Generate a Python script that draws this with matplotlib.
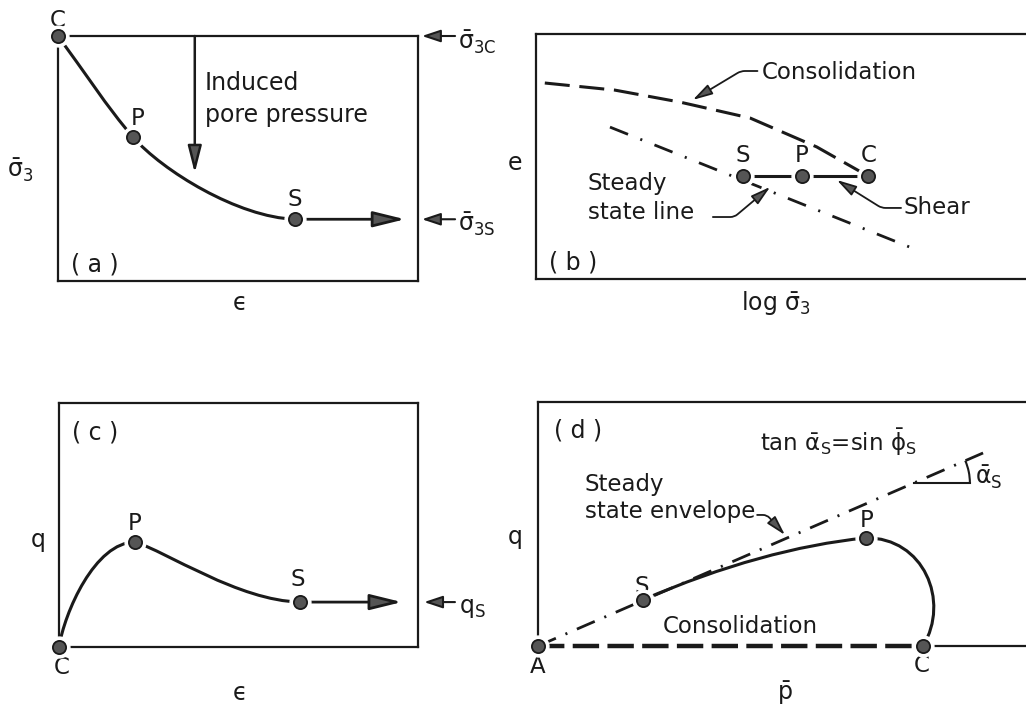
import matplotlib.pyplot as plt
from matplotlib.path import Path
from matplotlib.patches import PathPatch, Arc

plt.rcParams['font.family'] = 'DejaVu Sans'
plt.rcParams['mathtext.fontset'] = 'dejavusans'
plt.rcParams['mathtext.default'] = 'regular'
plt.rcParams['lines.scale_dashes'] = False

# (a) effective minor principal stress vs strain
a_labels = ['C', 'P', 'S']
a_x = [0.0, 2.08, 6.58]
a_y = [10.0, 5.88, 2.52]
# bezier control points C -> P -> S
a_path = [(0.0, 10.0), (0.7, 8.61), (1.38, 7.06), (2.08, 5.88),
          (2.9, 4.5), (5.0, 2.6), (6.58, 2.52)]
a_flow_end = 9.64
a_pore_x = 3.8
a_pore_end = 4.41

# (b) void ratio vs log stress
b_labels = ['S', 'P', 'C']
b_x = [4.22, 5.43, 6.78]
b_y = [4.20, 4.20, 4.20]
b_consol_x = [0.18, 1.61, 2.94, 4.37, 5.73, 6.78]
b_consol_y = [8.0, 7.71, 7.22, 6.57, 5.39, 4.20]
b_ssl_x = [1.51, 7.78]
b_ssl_y = [6.20, 1.18]

# (c) deviator stress vs strain
c_labels = ['C', 'P', 'S']
c_x = [0.0, 2.12, 6.71]
c_y = [0.0, 4.30, 1.84]
c_path = [(0.0, 0.0), (0.15, 1.4), (1.0, 4.3), (2.12, 4.3),
          (3.0, 3.9), (5.0, 1.9), (6.71, 1.84)]
c_flow_end = 9.55

# (d) stress path, q vs p
d_labels = ['A', 'S', 'P', 'C']
d_x = [0.0, 2.15, 6.72, 7.89]
d_y = [0.0, 1.89, 4.43, 0.0]
d_path = [(2.15, 1.89), (3.78, 3.30), (5.31, 4.14), (6.72, 4.43),
          (7.9, 4.45), (8.45, 1.85), (7.89, 0.0)]
d_env_x = [0.0, 9.12]
d_env_y = [0.0, 7.91]
d_angle_x = 7.70
d_angle_r = 1.15

ink = '#1a1a1a'
grey = '#555555'
fs = 16.5
eps = '\u03f5'

fig = plt.figure(figsize=(10.26, 7.13), dpi=100)
ax_a = fig.add_axes([0.0565, 0.6059, 0.3509, 0.3436])
ax_b = fig.add_axes([0.5224, 0.6087, 0.4776, 0.3436])
ax_c = fig.add_axes([0.0575, 0.0926, 0.3499, 0.3422])
ax_d = fig.add_axes([0.5244, 0.0940, 0.4756, 0.3422])


def frame(ax):
    ax.set_xlim(0, 10)
    ax.set_ylim(0, 10)
    ax.set_xticks([])
    ax.set_yticks([])
    for sp in ax.spines.values():
        sp.set_linewidth(1.6)
        sp.set_color(ink)


def curve(ax, pts):
    codes = [Path.MOVETO] + [Path.CURVE4] * (len(pts) - 1)
    ax.add_patch(PathPatch(Path(pts, codes), fill=False, ec=ink, lw=2.2,
                           capstyle='round', zorder=3, clip_on=False))


def points(ax, xs, ys):
    ax.plot(xs, ys, 'o', ms=15, color='white', zorder=5, clip_on=False)
    ax.plot(xs, ys, 'o', ms=9.5, mfc=grey, mec=ink, mew=1.3, zorder=6, clip_on=False)


def arrow(ax, start, end, hl=1.3, hw=0.32, lw=2.0, shrink=0):
    ax.annotate('', xy=end, xytext=start, annotation_clip=False,
                arrowprops=dict(arrowstyle=f'-|>,head_length={hl},head_width={hw}',
                                mutation_scale=15, lw=lw, ec=ink, fc=grey,
                                shrinkA=shrink, shrinkB=0))


def leader(ax, start, tip, angle_b):
    ax.annotate('', xy=tip, xytext=start, annotation_clip=False,
                arrowprops=dict(arrowstyle='-|>,head_length=0.8,head_width=0.22',
                                mutation_scale=15, lw=1.3, ec=ink, fc=grey,
                                shrinkA=0, shrinkB=0,
                                connectionstyle=f'angle,angleA=0,angleB={angle_b},rad=4'))


def label(ax, x, y, s, size=fs, ha='center', **kw):
    ax.text(x, y, s, fontsize=size, ha=ha, va='center', color=ink, **kw)


for ax in [ax_a, ax_b, ax_c, ax_d]:
    frame(ax)
ax_b.spines['right'].set_visible(False)
ax_d.spines['right'].set_visible(False)
ax_d.spines['bottom'].set_visible(False)

# ---- (a) ----
curve(ax_a, a_path)
points(ax_a, a_x, a_y)
arrow(ax_a, (a_x[2], a_y[2]), (a_flow_end, a_y[2]), shrink=8)
arrow(ax_a, (a_pore_x, 10.0), (a_pore_x, a_pore_end), hl=1.1, hw=0.28, lw=1.8)
label(ax_a, 4.08, 7.43, 'Induced\npore pressure', size=17, ha='left', linespacing=1.4)
label(ax_a, 0.0, 10.65, a_labels[0])
label(ax_a, 2.22, 6.65, a_labels[1])
label(ax_a, 6.58, 3.31, a_labels[2])
label(ax_a, 1.03, 0.69, '( a )', size=17)
arrow(ax_a, (11.03, 10.0), (10.11, 10.0), hl=0.75, hw=0.25, lw=1.5)
arrow(ax_a, (11.03, a_y[2]), (10.11, a_y[2]), hl=0.75, hw=0.25, lw=1.5)
label(ax_a, 11.1, 9.75, r'$\bar{\sigma}_{3C}$', size=17, ha='left')
label(ax_a, 11.1, 2.3, r'$\bar{\sigma}_{3S}$', size=17, ha='left')
label(ax_a, -1.06, 4.53, r'$\bar{\sigma}_3$', size=17)
label(ax_a, 5.06, -0.9, eps, size=17)

# ---- (b) ----
ax_b.plot(b_consol_x, b_consol_y, color=ink, lw=2.2, dashes=(18, 7), zorder=3)
ax_b.plot(b_ssl_x, b_ssl_y, color=ink, lw=2.0, dashes=(14, 9.5, 1.5, 9.5),
          dash_capstyle='butt', zorder=3)
ax_b.plot(b_x, b_y, color=ink, lw=2.2, zorder=3)
points(ax_b, b_x, b_y)
for name, x in zip(b_labels, b_x):
    label(ax_b, x, 5.06, name)
label(ax_b, 4.6, 8.41, 'Consolidation', ha='left')
leader(ax_b, (4.52, 8.49), (3.20, 7.31), 31)
label(ax_b, 1.06, 3.31, 'Steady\nstate line', ha='left', linespacing=1.3)
leader(ax_b, (3.61, 2.53), (4.78, 3.76), 40)
label(ax_b, 7.49, 2.90, 'Shear', ha='left')
leader(ax_b, (7.45, 2.90), (6.14, 4.04), -32)
label(ax_b, 0.76, 0.69, '( b )', size=17)
label(ax_b, -0.43, 4.73, 'e', size=17)
label(ax_b, 4.9, -0.98, r'log $\bar{\sigma}_3$', size=17)

# ---- (c) ----
curve(ax_c, c_path)
points(ax_c, c_x, c_y)
arrow(ax_c, (c_x[2], c_y[2]), (c_flow_end, c_y[2]), shrink=8)
arrow(ax_c, (11.03, c_y[2]), (10.17, c_y[2]), hl=0.75, hw=0.25, lw=1.5)
label(ax_c, 11.15, 1.6, r'$q_S$', size=17, ha='left')
label(ax_c, 0.08, -0.86, c_labels[0])
label(ax_c, 2.12, 5.08, c_labels[1])
label(ax_c, 6.66, 2.75, c_labels[2])
label(ax_c, 1.0, 8.81, '( c )', size=17)
label(ax_c, -0.58, 4.39, 'q', size=17)
label(ax_c, 5.04, -1.89, eps, size=17)

# ---- (d) ----
ax_d.plot([d_x[0], d_x[3]], [0, 0], color=ink, lw=3.2, dashes=(19, 6),
          zorder=3, clip_on=False)
ax_d.plot([d_x[3], 10], [0, 0], color=ink, lw=1.6, zorder=3, clip_on=False)
ax_d.plot(d_env_x, d_env_y, color=ink, lw=2.0, dashes=(14, 7.5, 1.5, 7.5),
          dash_capstyle='butt', zorder=3)
curve(ax_d, d_path)
points(ax_d, d_x, d_y)
label(ax_d, -0.0, -0.86, d_labels[0])
label(ax_d, 2.13, 2.42, d_labels[1])
label(ax_d, 6.74, 5.16, d_labels[2])
label(ax_d, 7.87, -0.78, d_labels[3])
label(ax_d, 4.14, 0.78, 'Consolidation')
label(ax_d, 0.96, 6.07, 'Steady\nstate envelope', ha='left')
leader(ax_d, (4.49, 5.37), (5.06, 4.55), 132)
label(ax_d, 4.55, 8.36, r'tan $\bar{\alpha}_S$=sin $\bar{\phi}_S$', ha='left')
# slope angle of the envelope
ax_d.plot([d_angle_x, d_angle_x + d_angle_r], [6.68, 6.68], color=ink, lw=1.5, zorder=3)
ax_d.add_patch(Arc((d_angle_x, 6.68), 2 * d_angle_r, 2 * d_angle_r * 48.8 / 24.4,
                   theta1=0, theta2=40.9, color=ink, lw=1.5, zorder=3))
label(ax_d, 8.96, 6.89, r'$\bar{\alpha}_S$', size=17, ha='left')
label(ax_d, 0.82, 8.85, '( d )', size=17)
label(ax_d, -0.47, 4.47, 'q', size=17)
label(ax_d, 5.06, -1.93, r'$\bar{p}$', size=17)

plt.savefig('out.png', dpi=100)
